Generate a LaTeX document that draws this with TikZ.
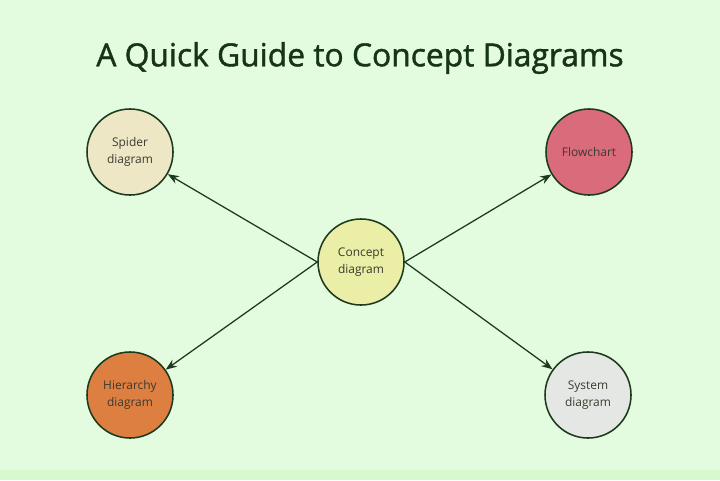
\documentclass[tikz,border=0pt]{standalone}
\usepackage{fontspec}
\setmainfont{Open Sans}
\newfontfamily\titlefont[FakeBold=1.3]{Open Sans}
\usetikzlibrary{arrows.meta}
\definecolor{bgGreen}{HTML}{E3FBDF}
\definecolor{stripGreen}{HTML}{D8F8D0}
\definecolor{lineGreen}{HTML}{1C3A1C}
\definecolor{titleGreen}{HTML}{153515}
\definecolor{labelGrey}{HTML}{3A3A30}
\definecolor{spiderFill}{HTML}{EDE7C6}
\definecolor{flowFill}{HTML}{D96B7B}
\definecolor{conceptFill}{HTML}{EAEEA6}
\definecolor{hierFill}{HTML}{DD7F40}
\definecolor{systemFill}{HTML}{E5E7E4}
\tikzset{
every concept/.style={ % circles for each kind of diagram
circle,
draw=lineGreen,
line width=1.1pt,
minimum size=2.15cm,
inner sep=0pt,
align=center,
text=labelGrey,
font=\fontsize{8.5}{12.5}\selectfont},
link/.style={ % arrows leaving the centre
draw=lineGreen,
line width=0.9pt,
-{Stealth[length=8pt,width=6pt]}}}

\begin{document}
\begin{tikzpicture}[x=0.025cm,y=-0.025cm]
\fill[bgGreen] (0,0) rectangle (720,480);
\fill[stripGreen] (0,470) rectangle (720,480);
\useasboundingbox (0,0) rectangle (720,480);
\node[text=titleGreen, font=\titlefont\fontsize{22.6}{26}\selectfont] (title) at (360,58) {A Quick Guide to Concept Diagrams};
\node[every concept, fill=conceptFill] (concept) at (361,262) {Concept\\diagram};
\node[every concept, fill=spiderFill] (spider) at (130,152) {Spider\\diagram};
\node[every concept, fill=flowFill] (flow) at (589,152) {Flowchart};
\node[every concept, fill=hierFill] (hier) at (130,395) {Hierarchy\\diagram};
\node[every concept, fill=systemFill] (system) at (588,395) {System\\diagram};
\draw[link] (concept.west) -- (spider);
\draw[link] (concept.west) -- (hier);
\draw[link] (concept.east) -- (flow);
\draw[link] (concept.east) -- (system);
\end{tikzpicture}
\end{document}
